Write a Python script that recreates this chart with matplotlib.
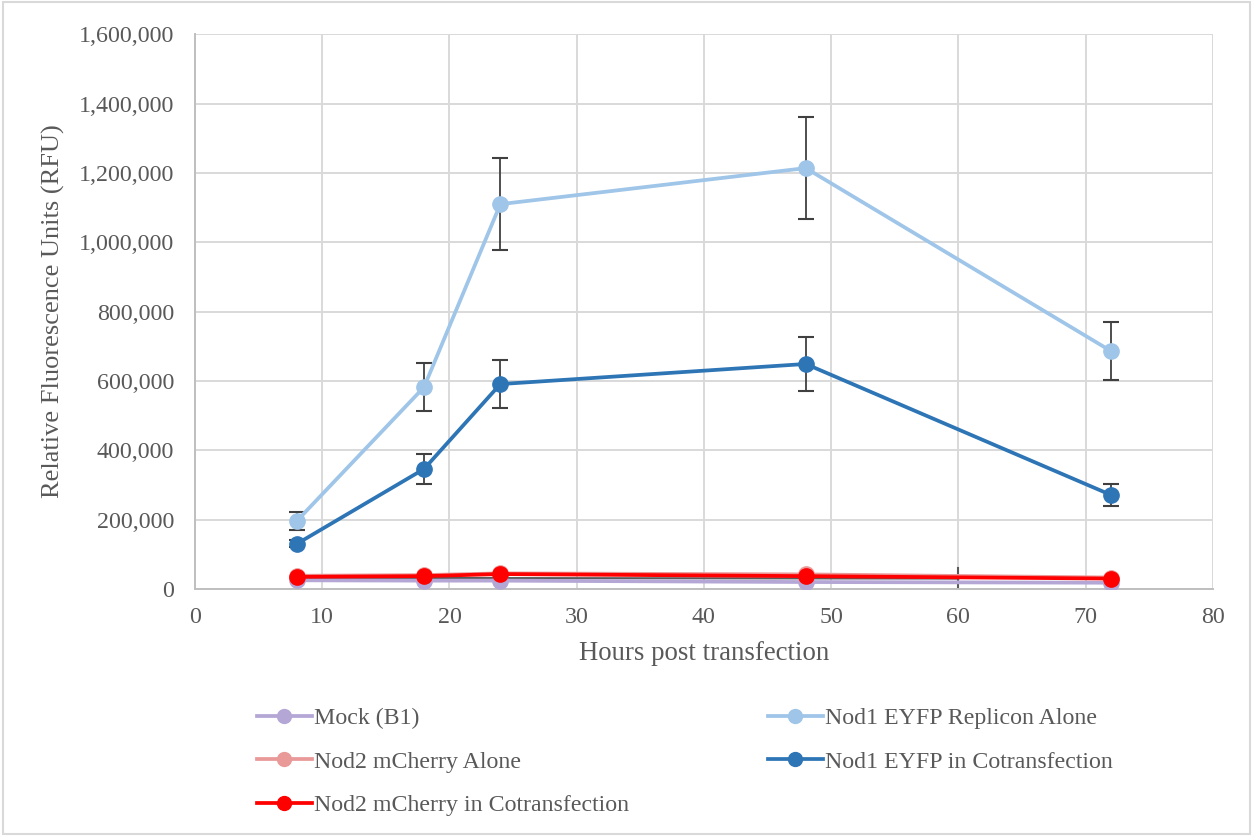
import numpy as np
import matplotlib
matplotlib.use("Agg")
from matplotlib import pyplot as plt
from matplotlib.ticker import FuncFormatter

plt.rcParams['font.family'] = ['Liberation Serif', 'DejaVu Serif']

hours = [8, 18, 24, 48, 72]

mock = [25000, 24000, 24000, 20000, 18000]
nod1_alone = [196000, 582000, 1110000, 1214000, 686000]
nod1_alone_err = [25000, 70000, 133000, 147000, 83000]
nod2_alone = [38000, 40000, 45000, 42000, 33000]
nod1_cotr = [130000, 346000, 591000, 649000, 271000]
nod1_cotr_err = [10000, 42000, 70000, 78000, 33000]
nod2_cotr = [35000, 37000, 43000, 37000, 30000]

# stray gray segment visible under the low series (ends with a tick at 60 h)
stray_x = [8, 60]
stray_y = [32000, 30000]
stray_tick = [0, 60000]

text_col = '#595959'
grid_col = '#D9D9D9'

fig = plt.figure(figsize=(12.53, 8.36), dpi=100)
ax = fig.add_axes([0.1556, 0.2955, 0.8124, 0.6635])

ax.plot(stray_x, stray_y, color='#595959', lw=1.5, zorder=2)
ax.plot([stray_x[1], stray_x[1]], stray_tick, color='#595959', lw=1.5, zorder=2)

series = [
    ('Mock (B1)', mock, None, '#B4A7D6'),
    ('Nod1 EYFP Replicon Alone', nod1_alone, nod1_alone_err, '#9FC5E8'),
    ('Nod2 mCherry Alone', nod2_alone, None, '#EA9999'),
    ('Nod1 EYFP in Cotransfection', nod1_cotr, nod1_cotr_err, '#2E75B6'),
    ('Nod2 mCherry in Cotransfection', nod2_cotr, None, '#FF0000'),
]

handles = {}
for i, (name, vals, err, col) in enumerate(series):
    if err is not None:
        ax.errorbar(hours, vals, yerr=err, fmt='none', ecolor='#404040',
                    elinewidth=1.3, capsize=6, capthick=1.5, zorder=3 + i)
    h, = ax.plot(hours, vals, color=col, lw=2.7, marker='o', markersize=11,
                 label=name, zorder=4 + i)
    handles[name] = h

ax.set_xlim(0, 80)
ax.set_ylim(0, 1600000)
ax.set_xticks(range(0, 81, 10))
ax.set_yticks(range(0, 1600001, 200000))
ax.yaxis.set_major_formatter(FuncFormatter(lambda v, p: f'{int(v):,}'))
ax.grid(True, color=grid_col, lw=1.4)
ax.set_axisbelow(True)
for s in ['top', 'right']:
    ax.spines[s].set_visible(False)
for s in ['left', 'bottom']:
    ax.spines[s].set_color('#BFBFBF')
    ax.spines[s].set_linewidth(1.4)
ax.tick_params(length=0, labelsize=17.3, labelcolor=text_col)
ax.tick_params(axis='x', pad=13)
ax.tick_params(axis='y', pad=15)

ax.set_xlabel('Hours post transfection', fontsize=19.3, color=text_col, labelpad=9)
ax.set_ylabel('Relative Fluorescence Units (RFU)', fontsize=19, color=text_col, labelpad=10)

order = ['Mock (B1)', 'Nod2 mCherry Alone', 'Nod2 mCherry in Cotransfection',
         'Nod1 EYFP Replicon Alone', 'Nod1 EYFP in Cotransfection']
leg = fig.legend([handles[n] for n in order], order, ncol=2, frameon=False,
                 loc='upper left', bbox_to_anchor=(0.205, 0.154),
                 fontsize=17.2, handlelength=2.3, handletextpad=0.1,
                 columnspacing=5.8, labelspacing=0.92, borderaxespad=0,
                 borderpad=0)
for t in leg.get_texts():
    t.set_color(text_col)
for lh in leg.legend_handles:
    lh.set_markersize(10)

fig.patches.append(plt.Rectangle((0.002, 0.002), 0.996, 0.996, transform=fig.transFigure,
                                 fill=False, edgecolor='#D9D9D9', lw=1.5))

fig.savefig('out.png', dpi=100, facecolor='white')
